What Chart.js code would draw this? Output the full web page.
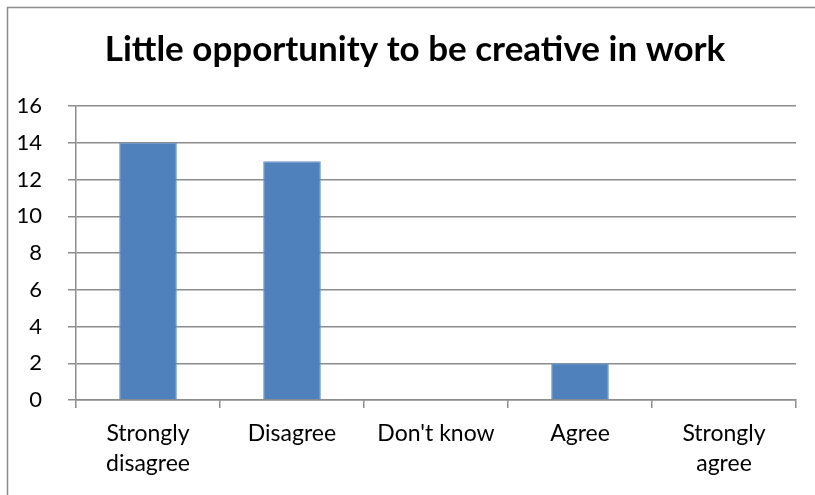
<!DOCTYPE html>
<html>
<head>
<meta charset="utf-8">
<script src="https://cdn.jsdelivr.net/npm/chart.js@4"></script>
<style>
  html, body { margin: 0; padding: 0; background: #fff; }
  #wrap { width: 815px; height: 495px; position: relative; }
</style>
</head>
<body>
<div id="wrap"><canvas id="graph" width="815" height="495"></canvas></div>
<script>
const answers = [["Strongly", "disagree"], "Disagree", "Don't know", "Agree", ["Strongly", "agree"]];
const counts = [14, 13, 0, 2, 0];
const chartTitle = "Little opportunity to be creative in work";

const gridGray = "#8c8c8c";
const fontName = "Lato, 'Open Sans', sans-serif";

// outer frame on the left and top edges, plus the title centred in the frame
const frame = {
	id: "frame",
	beforeDraw(chart){
		let c = chart.ctx;
		c.save();
		c.strokeStyle = gridGray;
		c.lineWidth = 1.5;
		c.beginPath();
		c.moveTo(7.5, 495);
		c.lineTo(7.5, 7.5);
		c.lineTo(815, 7.5);
		c.stroke();
		c.restore();
	},
	afterDraw(chart){
		let c = chart.ctx;
		c.save();
		c.fillStyle = "#000";
		c.font = "bold 35px " + fontName;
		c.textAlign = "center";
		c.textBaseline = "middle";
		c.fillText(chartTitle, 415, 50);
		c.restore();
	}
};

let graph = document.getElementById("graph").getContext("2d");
let myChart = new Chart(graph, {
	type: 'bar',
	data:{
		labels: answers,
		datasets:[{
			label: "Responses",
			backgroundColor: "#4f81bd",
			borderColor: "#6a93c8",
			borderWidth: 1,
			categoryPercentage: 1,
			barPercentage: 0.4,
			data: counts
		}]
	},
	options:{
		responsive: false,
		animation: false,
		layout: {padding: {left: 0, right: 19, top: 106, bottom: 0}},
		plugins:{
			legend:{display: false},
			tooltip:{enabled: false},
			title:{display: false}
		},
		scales:{
			x:{
				grid:{display: true, drawOnChartArea: false, offset: true, color: gridGray, lineWidth: 1.5, tickLength: 8},
				border:{display: true, color: gridGray, width: 1.5},
				ticks:{color: "#000", padding: 11, maxRotation: 0, font: {family: fontName, size: 23, lineHeight: 1.3}},
				afterFit(scale){ scale.height = 95; }
			},
			y:{
				min: 0,
				max: 16,
				grid:{color: gridGray, lineWidth: 1.5, tickLength: 8},
				border:{display: true, color: gridGray, width: 1.5},
				ticks:{stepSize: 2, color: "#000", padding: 26, font: {family: fontName, size: 22}},
				afterFit(scale){ scale.width = 76; }
			}
		}
	},
	plugins: [frame]
});
</script>
</body>
</html>
